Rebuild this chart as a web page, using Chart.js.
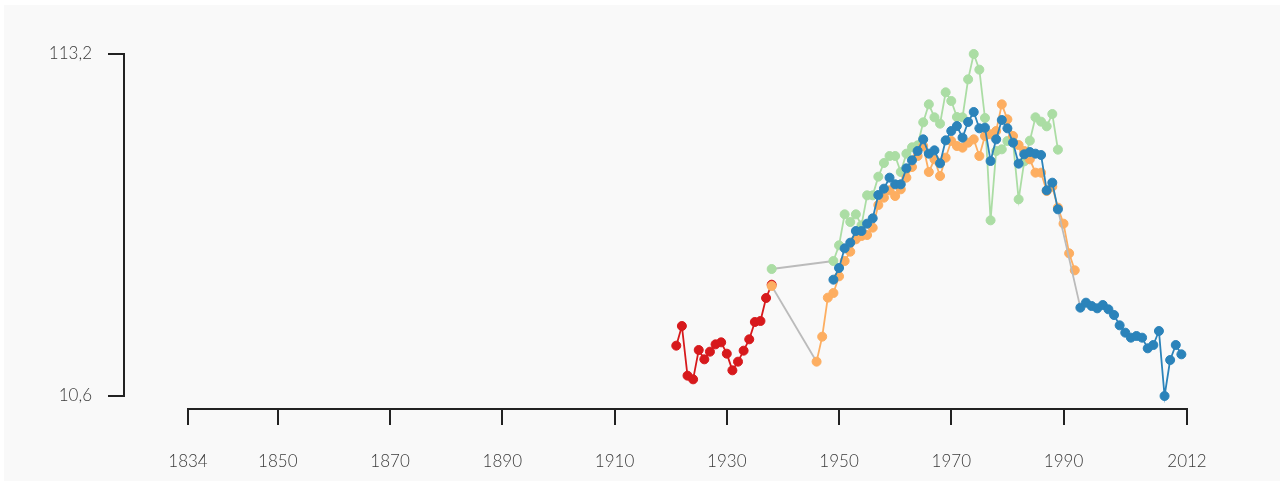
<!DOCTYPE html>
<html>
<head>
<meta charset="utf-8">
<style>
  html, body { margin: 0; padding: 0; background: #ffffff; }
  #wrap { position: relative; width: 1288px; height: 483px; }
  canvas { display: block; }
</style>
<script src="https://cdn.jsdelivr.net/npm/chart.js@4/dist/chart.umd.min.js"></script>
</head>
<body>
<div id="wrap"><canvas id="c" width="1288" height="483"></canvas></div>
<script>
// ---- data ----
const xTicks = [1834, 1850, 1870, 1890, 1910, 1930, 1950, 1970, 1990, 2012];
const yTicks = [10.6, 113.2];

const redYears = [1921,1922,1923,1924,1925,1926,1927,1928,1929,1930,1931,1932,1933,1934,1935,1936,1937,1938];
const redValues = [25.7,31.6,16.7,15.6,24.4,21.6,23.9,26.1,26.7,23.3,18.3,20.9,24.2,27.6,32.8,33.1,40.0,44.0];

const orangeYears = [1938,
  1946,1947,1948,1949,1950,1951,1952,1953,1954,1955,1956,1957,1958,1959,1960,
  1961,1962,1963,1964,1965,1966,1967,1968,1969,1970,1971,1972,1973,1974,1975,
  1976,1977,1978,1979,1980,1981,1982,1983,1984,1985,1986,1987,1988,1989,1990,
  1991,1992];
const orangeValues = [43.6,
  20.9,28.4,40.1,41.5,46.5,51.1,53.9,57.6,58.6,58.9,61.1,67.9,70.1,72.3,70.6,
  72.6,76.1,79.3,82.6,85.6,77.8,81.6,76.6,82.1,87.1,85.6,85.1,86.6,87.6,82.6,
  88.6,89.1,90.1,98.1,93.6,88.6,85.9,84.1,81.6,77.6,77.6,72.1,73.4,67.1,62.3,
  53.4,48.3];

const greenYears = [1938,
  1949,1950,1951,1952,1953,1954,1955,1956,1957,1958,1959,1960,1961,1962,1963,
  1964,1965,1966,1967,1968,1969,1970,1971,1972,1973,1974,1975,1976,1977,1978,
  1979,1980,1981,1982,1983,1984,1985,1986,1987,1988,1989];
const greenValues = [48.7,
  51.1,55.8,65.1,62.8,65.1,61.8,70.8,70.8,76.4,80.5,82.6,82.6,77.8,83.3,85.2,
  85.8,92.7,98.1,94.2,92.3,101.7,99.1,94.3,94.2,105.6,113.2,108.5,94.0,63.3,84.1,
  84.6,87.1,86.8,69.6,81.0,87.2,94.2,92.9,91.5,95.2,84.5];

const blueYears = [
  1949,1950,1951,1952,1953,1954,1955,1956,1957,1958,1959,1960,1961,1962,1963,
  1964,1965,1966,1967,1968,1969,1970,1971,1972,1973,1974,1975,1976,1977,1978,
  1979,1980,1981,1982,1983,1984,1985,1986,1987,1988,1989,
  1993,1994,1995,1996,1997,1998,1999,2000,2001,2002,2003,2004,2005,2006,2007,
  2008,2009,2010,2011];
const blueValues = [
  45.5,49.0,54.9,56.6,60.1,60.1,62.3,63.9,70.9,72.8,76.1,74.1,74.1,78.9,81.3,
  84.1,87.6,83.3,84.3,80.4,87.3,90.1,91.6,88.1,92.8,95.8,90.9,91.1,81.1,87.6,
  93.4,90.9,86.6,80.3,83.1,83.8,83.3,82.9,72.3,74.6,66.6,
  37.1,38.6,37.6,36.9,37.9,36.6,34.9,31.8,29.6,28.1,28.6,28.1,24.9,25.9,30.1,
  10.6,21.4,25.9,23.1];

// ---- styles ----
const COLORS = { red: '#d7191c', orange: '#fdae61', green: '#abdda4', blue: '#2b83ba', gap: '#bbbbbb' };
const AXIS = '#222222';
const TEXT = '#3a3a3a';

function makeDataset(label, years, values, color) {
  return {
    label: label,
    data: years.map((yr, i) => ({ x: yr, y: values[i] })),
    borderColor: color,
    backgroundColor: color,
    pointBackgroundColor: color,
    pointBorderColor: color,
    pointBorderWidth: 1,
    pointRadius: 4.5,
    borderWidth: 1.8,
    tension: 0,
    clip: false,
    xAxisID: 'x',
    yAxisID: 'y',
    segment: {
      borderColor: ctx => (years[ctx.p1DataIndex] - years[ctx.p0DataIndex] > 1) ? COLORS.gap : undefined
    }
  };
}

const panelPlugin = {
  id: 'panel',
  beforeDraw(chart) {
    const c = chart.ctx;
    c.save();
    c.fillStyle = '#f9f9f9';
    c.fillRect(4, 5, 1276, 476);
    c.restore();
  }
};

Chart.defaults.font.family = 'Lato, "Open Sans", sans-serif';
Chart.defaults.font.weight = '300';
Chart.defaults.font.size = 17;
Chart.defaults.color = TEXT;

new Chart(document.getElementById('c'), {
  type: 'line',
  data: {
    datasets: [
      makeDataset('blue', blueYears, blueValues, COLORS.blue),
      makeDataset('orange', orangeYears, orangeValues, COLORS.orange),
      makeDataset('red', redYears, redValues, COLORS.red),
      makeDataset('green', greenYears, greenValues, COLORS.green)
    ]
  },
  options: {
    responsive: false,
    animation: false,
    devicePixelRatio: 1,
    events: [],
    layout: { padding: { left: 0, right: 101, top: 54, bottom: 0 } },
    plugins: { legend: { display: false }, tooltip: { enabled: false } },
    scales: {
      x: {
        type: 'linear',
        position: 'bottom',
        weight: 10,
        min: 1834,
        max: 2012,
        afterBuildTicks: s => { s.ticks = xTicks.map(v => ({ value: v })); },
        afterFit: s => { s.height = 74; },
        ticks: {
          autoSkip: false, maxRotation: 0, minRotation: 0, padding: 26,
          callback: v => String(v)
        },
        grid: { display: true, drawOnChartArea: false, drawTicks: true, tickLength: 16, color: AXIS, lineWidth: 2, tickWidth: 2 },
        border: { display: true, color: AXIS, width: 2 }
      },
      xGap: {
        type: 'linear', axis: 'x', position: 'bottom', weight: 0, display: true,
        afterFit: s => { s.height = 13; },
        ticks: { display: false },
        grid: { display: false },
        border: { display: false }
      },
      y: {
        type: 'linear',
        position: 'left',
        weight: 10,
        min: 10.6,
        max: 113.2,
        afterBuildTicks: s => { s.ticks = yTicks.map(v => ({ value: v })); },
        afterFit: s => { s.width = 124; },
        ticks: {
          padding: 16,
          callback: v => String(v).replace('.', ',')
        },
        grid: { display: true, drawOnChartArea: false, drawTicks: true, tickLength: 16, color: AXIS, lineWidth: 2, tickWidth: 2 },
        border: { display: true, color: AXIS, width: 2 }
      },
      yGap: {
        type: 'linear', axis: 'y', position: 'left', weight: 0, display: true,
        afterFit: s => { s.width = 64; },
        ticks: { display: false },
        grid: { display: false },
        border: { display: false }
      }
    }
  },
  plugins: [panelPlugin]
});
</script>
</body>
</html>
